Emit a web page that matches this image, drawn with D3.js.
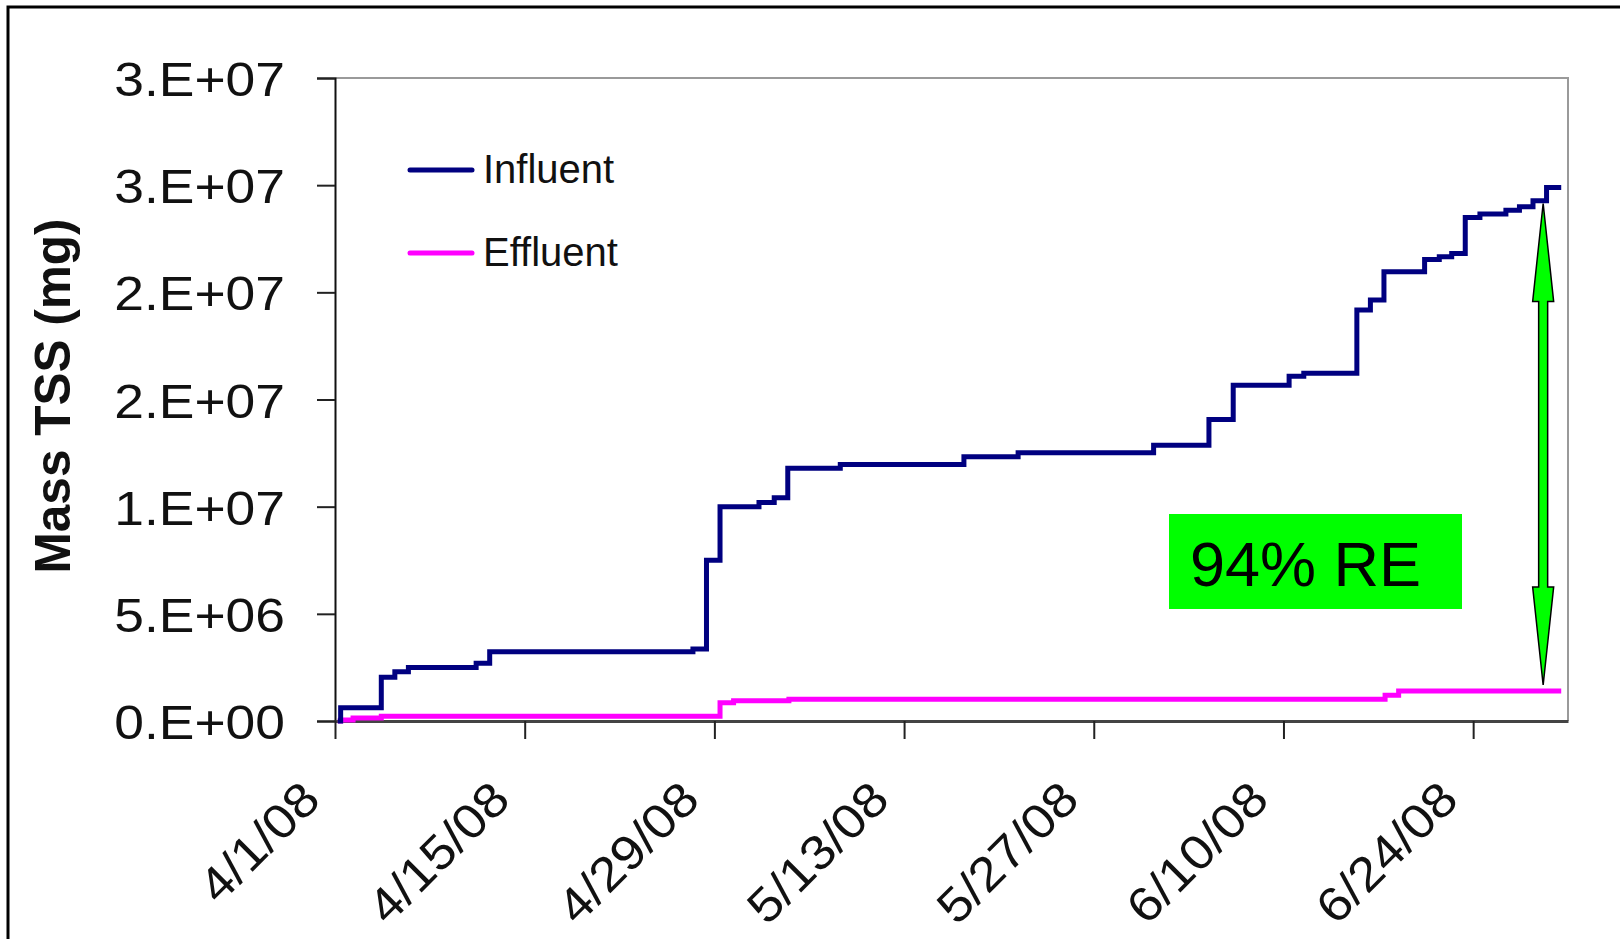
<!DOCTYPE html>
<html>
<head>
    <meta charset="utf-8">
    <script src="https://d3js.org/d3.v7.min.js"></script>
    <style>
        body { margin: 0; background: #fff; }
        text { font-family: "Liberation Sans", Arial, sans-serif; }
    </style>
</head>
<body>
</body>
<script>
    // influent cumulative mass (step changes)
    let influentDates = ["2008-04-01 05:00", "2008-04-01 10:00", "2008-04-04 10:00", "2008-04-05 10:00",
        "2008-04-06 10:00", "2008-04-11 10:00", "2008-04-12 10:00", "2008-04-27 10:00", "2008-04-28 10:00",
        "2008-04-29 10:00", "2008-05-02 07:00", "2008-05-03 10:00", "2008-05-04 10:00", "2008-05-08 07:00",
        "2008-05-17 10:00", "2008-05-21 10:00", "2008-05-31 10:00", "2008-06-04 12:00", "2008-06-06 07:00",
        "2008-06-10 10:00", "2008-06-11 12:00", "2008-06-15 10:00", "2008-06-16 10:00", "2008-06-17 10:00",
        "2008-06-20 10:00", "2008-06-21 12:00", "2008-06-22 10:00", "2008-06-23 10:00", "2008-06-24 12:00",
        "2008-06-26 10:00", "2008-06-27 10:00", "2008-06-28 10:00", "2008-06-29 10:00", "2008-06-30 12:00"];
    let influentValues = [0, 0.62e6, 2.04e6, 2.30e6, 2.50e6, 2.69e6, 3.23e6, 3.36e6, 7.5e6, 10.0e6,
        10.2e6, 10.42e6, 11.79e6, 11.97e6, 12.33e6, 12.51e6, 12.87e6, 14.07e6, 15.67e6, 16.09e6,
        16.22e6, 19.17e6, 19.64e6, 20.96e6, 21.53e6, 21.66e6, 21.81e6, 23.49e6, 23.65e6, 23.83e6,
        23.99e6, 24.27e6, 24.89e6, 24.89e6];

    let effluentDates = ["2008-04-01 05:00", "2008-04-01 10:00", "2008-04-02 08:00", "2008-04-04 10:00",
        "2008-04-29 10:00", "2008-04-30 10:00", "2008-05-04 12:00", "2008-06-17 12:00", "2008-06-18 12:00",
        "2008-06-30 12:00"];
    let effluentValues = [0, 0.05e6, 0.14e6, 0.22e6, 0.85e6, 0.94e6, 1.02e6, 1.20e6, 1.40e6, 1.40e6];

    let yTickValues = [0, 5e6, 10e6, 15e6, 20e6, 25e6, 30e6];
    let yTickLabels = ["0.E+00", "5.E+06", "1.E+07", "2.E+07", "2.E+07", "3.E+07", "3.E+07"];
    let xTickDates = ["2008-04-01", "2008-04-15", "2008-04-29", "2008-05-13", "2008-05-27", "2008-06-10", "2008-06-24"];
    let seriesNames = ["Influent", "Effluent"];
    let seriesColors = ["#000080", "#ff00ff"];
    let removalLabel = "94% RE";

    let width = 1620, height = 939;
    let plot = {left: 335, right: 1568, top: 78, bottom: 721};

    let parseTime = d3.timeParse("%Y-%m-%d %H:%M");
    let parseDay = d3.timeParse("%Y-%m-%d");
    let fmt = d => (d.getMonth() + 1) + "/" + d.getDate() + "/" + d3.timeFormat("%y")(d);

    let influent = influentDates.map((d, i) => ({date: parseTime(d), value: influentValues[i]}));
    let effluent = effluentDates.map((d, i) => ({date: parseTime(d), value: effluentValues[i]}));

    let svg = d3.select("body").append("svg")
        .attr("width", width)
        .attr("height", height);

    // outer frame (runs off the right/bottom edge)
    svg.append("rect")
        .attr("x", 8).attr("y", 7)
        .attr("width", 1700).attr("height", 1000)
        .attr("fill", "white")
        .attr("stroke", "black")
        .attr("stroke-width", 3);

    let x = d3.scaleTime()
        .domain([parseDay("2008-04-01"), parseDay("2008-07-01")])
        .range([plot.left, plot.right]);

    let y = d3.scaleLinear()
        .domain([0, 30e6])
        .range([plot.bottom, plot.top]);

    // plot area border (top + right, gray)
    svg.append("path")
        .attr("d", `M${plot.left},${plot.top}H${plot.right}V${plot.bottom}`)
        .attr("fill", "none")
        .attr("stroke", "#9a9a9a")
        .attr("stroke-width", 2);

    // y axis
    let yAxis = svg.append("g")
        .attr("transform", `translate(${plot.left},0)`)
        .call(d3.axisLeft(y).tickValues(yTickValues).tickSize(18)
            .tickFormat((d, i) => yTickLabels[i]));
    yAxis.select(".domain").attr("stroke", "#111").attr("stroke-width", 2);
    yAxis.selectAll(".tick line").attr("stroke", "#222").attr("stroke-width", 2);
    yAxis.selectAll(".tick text")
        .attr("font-size", 49)
        .attr("fill", "#111")
        .attr("x", 0)
        .attr("dy", "0.36em")
        .attr("transform", "translate(-50,0) scale(1.09,1)");

    // x axis
    let xAxis = svg.append("g")
        .attr("transform", `translate(0,${plot.bottom})`)
        .call(d3.axisBottom(x).tickValues(xTickDates.map(parseDay)).tickSize(18).tickSizeOuter(0)
            .tickFormat(fmt));
    xAxis.select(".domain").attr("stroke", "#444").attr("stroke-width", 3);
    xAxis.selectAll(".tick line").attr("stroke", "#222").attr("stroke-width", 2);
    xAxis.selectAll(".tick text")
        .attr("font-size", 48)
        .attr("fill", "#111")
        .attr("text-anchor", "end")
        .attr("dy", null)
        .attr("y", 0)
        .attr("transform", "translate(-22,72) rotate(-45) scale(1.1,1)")
        .attr("dominant-baseline", "middle");

    // y axis title
    svg.append("text")
        .attr("transform", "translate(70,396) rotate(-90)")
        .attr("text-anchor", "middle")
        .attr("font-size", 49.5)
        .attr("font-weight", "bold")
        .attr("fill", "#111")
        .text("Mass TSS (mg)");

    // step lines
    let line = d3.line()
        .curve(d3.curveStepAfter)
        .x(d => x(d.date))
        .y(d => y(d.value));

    [effluent, influent].forEach((s, k) => {
        svg.append("path")
            .datum(s)
            .attr("fill", "none")
            .attr("stroke", k === 1 ? seriesColors[0] : seriesColors[1])
            .attr("stroke-width", 5)
            .attr("d", line);
    });

    // legend
    let legend = svg.append("g");
    seriesNames.forEach((name, i) => {
        let ly = 170 + i * 83;
        legend.append("line")
            .attr("x1", 410).attr("x2", 472)
            .attr("y1", ly).attr("y2", ly)
            .attr("stroke", seriesColors[i])
            .attr("stroke-width", 5)
            .attr("stroke-linecap", "round");
        legend.append("text")
            .attr("x", 483).attr("y", ly + 13)
            .attr("font-size", 40)
            .attr("fill", "#111")
            .text(name);
    });

    // removal efficiency annotation
    svg.append("rect")
        .attr("x", 1169).attr("y", 514)
        .attr("width", 293).attr("height", 95)
        .attr("fill", "#00ff00");
    svg.append("text")
        .attr("x", 1190).attr("y", 586)
        .attr("font-size", 63)
        .attr("fill", "black")
        .text(removalLabel);

    // double-headed arrow between final influent and effluent
    let last = influent[influent.length - 1];
    let lastE = effluent[effluent.length - 1];
    let ax = x(parseTime("2008-06-29 04:00"));
    let yTop = y(last.value) + 16, yBot = y(lastE.value) - 6;
    let hl = 98, hw = 10.5, sw = 4.5;
    svg.append("path")
        .attr("d", `M${ax},${yTop} L${ax + hw},${yTop + hl} L${ax + sw},${yTop + hl} L${ax + sw},${yBot - hl}
            L${ax + hw},${yBot - hl} L${ax},${yBot} L${ax - hw},${yBot - hl} L${ax - sw},${yBot - hl}
            L${ax - sw},${yTop + hl} L${ax - hw},${yTop + hl} Z`)
        .attr("fill", "#00ff00")
        .attr("stroke", "black")
        .attr("stroke-width", 1.5);
</script>
</html>
